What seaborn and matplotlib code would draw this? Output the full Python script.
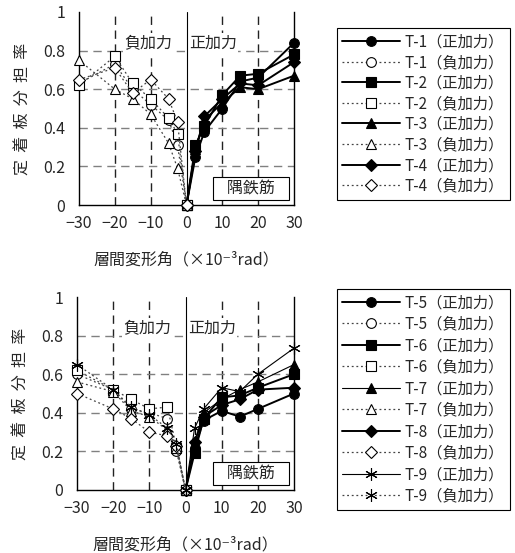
import numpy as np
import pandas as pd
import seaborn as sns
import matplotlib.pyplot as plt

sns.set_style('white')
plt.rcParams['font.family'] = ['Noto Sans CJK JP', 'DejaVu Sans']
plt.rcParams['axes.unicode_minus'] = True

# 層間変形角 (x10^-3 rad)
x_pos = [0, 2.5, 5, 10, 15, 20, 30]
x_neg = [0, -2.5, -5, -10, -15, -20, -30]

# 上段: T-1 ~ T-4 (正加力 / 負加力)
t1_pos = [0, 0.25, 0.38, 0.50, 0.64, 0.66, 0.84]
t1_neg = [0, 0.31, 0.44, 0.52, 0.60, 0.73, 0.63]
t2_pos = [0, 0.31, 0.41, 0.57, 0.67, 0.68, 0.78]
t2_neg = [0, 0.37, 0.45, 0.55, 0.63, 0.77, 0.62]
t3_pos = [0, 0.29, 0.44, 0.53, 0.61, 0.60, 0.67]
t3_neg = [0, 0.19, 0.32, 0.47, 0.55, 0.60, 0.75]
t4_pos = [0, 0.28, 0.46, 0.55, 0.63, 0.62, 0.74]
t4_neg = [0, 0.43, 0.55, 0.65, 0.58, 0.71, 0.65]

# 下段: T-5 ~ T-9
t5_pos = [0, 0.22, 0.36, 0.41, 0.38, 0.42, 0.50]
t5_neg = [0, 0.20, 0.37, 0.40, 0.42, 0.52, 0.60]
t6_pos = [0, 0.19, 0.37, 0.48, 0.49, 0.53, 0.60]
t6_neg = [0, 0.22, 0.43, 0.42, 0.47, 0.52, 0.62]
t7_pos = [0, 0.24, 0.40, 0.47, 0.52, 0.56, 0.65]
t7_neg = [0, 0.22, 0.31, 0.38, 0.41, 0.51, 0.56]
t8_pos = [0, 0.25, 0.38, 0.44, 0.47, 0.52, 0.53]
t8_neg = [0, 0.23, 0.28, 0.30, 0.37, 0.42, 0.50]
t9_pos = [0, 0.32, 0.42, 0.53, 0.51, 0.60, 0.735]
t9_neg = [0, 0.24, 0.32, 0.39, 0.43, 0.52, 0.65]

x_ticks = [-30, -20, -10, 0, 10, 20, 30]
x_ticklabels = ['\u221230', '\u221220', '\u221210', '0', '10', '20', '30']
y_ticks = [0, 0.2, 0.4, 0.6, 0.8, 1]
y_ticklabels = ['0', '0.2', '0.4', '0.6', '0.8', '1']

asterisk = (6, 2, 0)
top_series = [('T-1', t1_pos, t1_neg, 'o', 1.4),
              ('T-2', t2_pos, t2_neg, 's', 1.4),
              ('T-3', t3_pos, t3_neg, '^', 1.4),
              ('T-4', t4_pos, t4_neg, 'D', 1.4)]
bot_series = [('T-5', t5_pos, t5_neg, 'o', 1.4),
              ('T-6', t6_pos, t6_neg, 's', 1.4),
              ('T-7', t7_pos, t7_neg, '^', 0.8),
              ('T-8', t8_pos, t8_neg, 'D', 1.4),
              ('T-9', t9_pos, t9_neg, asterisk, 0.8)]

LEG_FS = 11


def msize(m):
    if m == 'D':
        return 6
    if m == asterisk:
        return 9
    return 7


def make_legend(ax, legend_top, spacing):
    h, l = ax.get_legend_handles_labels()
    leg = ax.legend(h, l, loc='upper left', bbox_to_anchor=(337 / 515, legend_top),
                    bbox_transform=fig.transFigure, borderaxespad=0, frameon=True,
                    fancybox=False, edgecolor='black', framealpha=1,
                    fontsize=LEG_FS, handlelength=3.8, handletextpad=0.3,
                    labelspacing=spacing, borderpad=0.35)
    leg.get_frame().set_linewidth(0.8)
    return leg


def panel(ax, series):
    for name, ypos, yneg, m, lw in series:
        sns.lineplot(x=x_pos, y=ypos, ax=ax, color='black', lw=lw, marker=m,
                     markersize=msize(m), markerfacecolor='black',
                     markeredgecolor='black', markeredgewidth=0.8,
                     label=name + '（正加力）', clip_on=False, zorder=5)
        sns.lineplot(x=x_neg, y=yneg, ax=ax, color='#444444', lw=0.9,
                     linestyle=(0, (1.5, 2.2)), marker=m,
                     markersize=msize(m), markerfacecolor='white',
                     markeredgecolor='black', markeredgewidth=0.8,
                     label=name + '（負加力）', clip_on=False, zorder=5)

    ax.set_xlim(-30, 30)
    ax.set_ylim(0, 1)
    ax.set_xticks(x_ticks)
    ax.set_xticklabels(x_ticklabels)
    ax.set_yticks(y_ticks)
    ax.set_yticklabels(y_ticklabels)
    ax.tick_params(axis='both', length=0, labelsize=11.5)
    ax.tick_params(axis='y', pad=10)
    ax.tick_params(axis='x', pad=7)

    for v in [-20, -10, 10, 20]:
        ax.axvline(v, color='#222222', lw=1.0, ls=(0, (6, 4)), zorder=1)
    for v in [0.2, 0.4, 0.6, 0.8]:
        ax.axhline(v, color='#808080', lw=1.0, ls=(0, (6, 4)), zorder=1)
    ax.axvline(0, color='black', lw=0.8, zorder=4)

    for s in ['left', 'bottom', 'right']:
        ax.spines[s].set_color('black')
        ax.spines[s].set_linewidth(1.0)
    ax.spines['top'].set_visible(False)

    tb = dict(facecolor='white', edgecolor='none', pad=1.0)
    ax.text(-3.9, 0.84, '負加力', ha='right', va='center', fontsize=11.5,
            bbox=tb, zorder=3)
    ax.text(0.6, 0.84, '正加力', ha='left', va='center', fontsize=11.5,
            bbox=tb, zorder=3)
    ax.text(18, 0.085, '   隅鉄筋   ', ha='center', va='center', fontsize=11.5,
            bbox=dict(boxstyle='square,pad=0.2', facecolor='white',
                      edgecolor='black', lw=0.8), zorder=3)

    ax.set_xlabel('層間変形角（×10⁻³rad）', fontsize=11.5, labelpad=14)
    ax.set_ylabel('定  着  板  分  担  率', fontsize=11.5, labelpad=8)


fig = plt.figure(figsize=(5.15, 5.53), dpi=100)
ax1 = fig.add_axes([79 / 515, 1 - 205 / 553, 215 / 515, 193 / 553])
ax2 = fig.add_axes([77 / 515, 1 - 490 / 553, 217 / 515, 193 / 553])

panel(ax1, top_series)
panel(ax2, bot_series)

# 凡例枠の高さを元図に合わせる (上段 172px, 下段 221px)
fs_px = LEG_FS * fig.dpi / 72
for ax, top_px, box_h, n_rows in [(ax1, 28, 172, 8), (ax2, 289, 221, 10)]:
    spacing = 0.3
    for _ in range(4):
        leg = make_legend(ax, 1 - top_px / 553, spacing)
        fig.canvas.draw()
        h = leg.get_window_extent().height
        spacing += (box_h - h) / ((n_rows - 1) * fs_px)
    make_legend(ax, 1 - top_px / 553, spacing)

fig.savefig('out.png', dpi=100)
